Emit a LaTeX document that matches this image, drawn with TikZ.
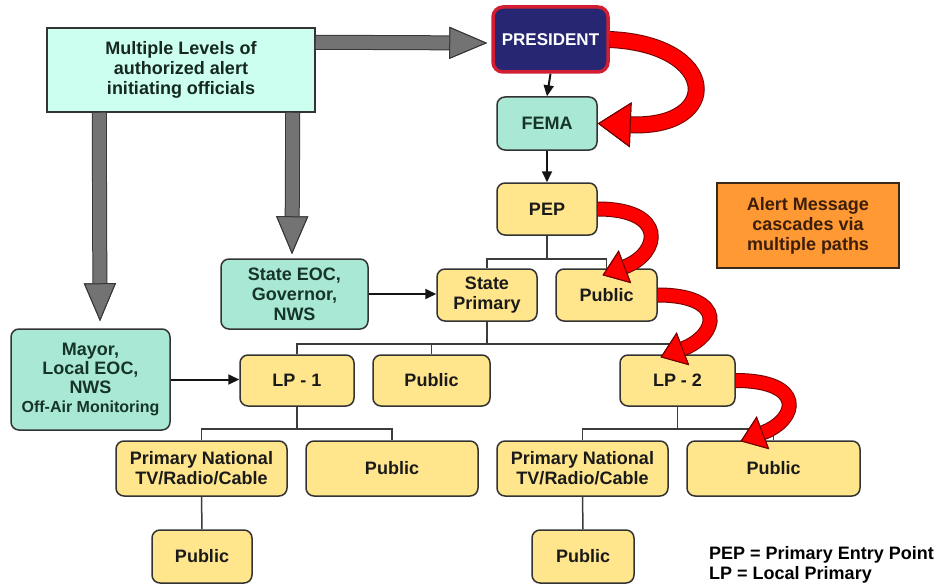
\documentclass[tikz,border=0pt]{standalone}
\usepackage{fontspec}
\setmainfont{Liberation Sans}
\usetikzlibrary{arrows.meta,calc}

\definecolor{boxyellow}{RGB}{255,229,140}
\definecolor{boxteal}{RGB}{168,232,212}
\definecolor{levelcyan}{RGB}{204,255,240}
\definecolor{presnavy}{RGB}{38,38,115}
\definecolor{presred}{RGB}{210,30,50}
\definecolor{alertorange}{RGB}{255,153,51}
\definecolor{arrred}{RGB}{255,0,0}
\definecolor{arrdark}{RGB}{110,0,0}
\definecolor{arrgrey}{RGB}{115,115,115}
\definecolor{greyedge}{RGB}{55,55,55}
\definecolor{edge}{RGB}{51,51,51}

\tikzset{
  box/.style={draw=edge, line width=1.5pt, rounded corners=8pt, align=center, inner sep=0pt,
    font=\fontsize{18}{20}\selectfont\bfseries, text={rgb,255:red,26;green,26;blue,26}},
  yelbox/.style={box, fill=boxyellow},
  tealbox/.style={box, fill=boxteal, text={rgb,255:red,22;green,52;blue,40}},
  tree/.style={line width=1.5pt, draw={rgb,255:red,60;green,60;blue,60}},
  blk/.style={line width=2pt, draw={rgb,255:red,20;green,20;blue,20}, -{Triangle[length=11pt,width=10pt]}},
  greyarr/.style={line width=13pt, draw=arrgrey, preaction={draw=greyedge, line width=15pt},
    -{Triangle[length=38pt,width=32pt,fill=arrgrey,color=greyedge,line width=1pt]}},
  redarr/.style={line width=13pt, draw=arrred, preaction={draw=arrdark, line width=15pt},
    -{Triangle[length=24pt,width=35pt,fill=arrred,color=arrdark,line width=1pt]}},
  bigred/.style={line width=15pt, draw=arrred, preaction={draw=arrdark, line width=17pt},
    -{Triangle[length=33pt,width=45pt,fill=arrred,color=arrdark,line width=1pt]}}
}

\begin{document}
\begin{tikzpicture}[x=1pt,y=1pt,yscale=-1,xscale=1]
\useasboundingbox (0,0) rectangle (943,586);

% officials
\node[box, rounded corners=0pt, fill=levelcyan, text={rgb,255:red,22;green,40;blue,32}, minimum width=268pt, minimum height=84pt] (levels) at (181,70) {Multiple Levels of\\authorized alert\\initiating officials};
\node[box, fill=presnavy, draw=presred, line width=3.5pt, rounded corners=10pt, text=white, font=\fontsize{17}{19}\selectfont\bfseries, minimum width=115pt, minimum height=65pt] (president) at (550.5,39.5) {PRESIDENT};
\node[tealbox, minimum width=100pt, minimum height=53pt] (fema) at (547,123.5) {FEMA};
\node[tealbox, minimum width=147pt, minimum height=70pt] (seoc) at (294.5,294) {State EOC,\\Governor,\\NWS};
\node[tealbox, minimum width=159pt, minimum height=101pt, font=\fontsize{18}{19}\selectfont\bfseries] (mayor) at (90.5,379.5) {Mayor,\\Local EOC,\\NWS\\{\fontsize{16}{18}\selectfont Off-Air Monitoring}};

% stations
\node[yelbox, minimum width=100pt, minimum height=52pt] (pep) at (547,209) {PEP};
\node[yelbox, minimum width=100pt, minimum height=52pt] (sp) at (487,295) {State\\Primary};
\node[yelbox, minimum width=101pt, minimum height=52pt] (pub1) at (606.5,295) {Public};
\node[yelbox, minimum width=114pt, minimum height=51pt] (lp1) at (297,380.5) {LP - 1};
\node[yelbox, minimum width=117pt, minimum height=51pt] (pub2) at (431.5,380.5) {Public};
\node[yelbox, minimum width=115pt, minimum height=51pt] (lp2) at (677.5,380.5) {LP - 2};
\node[yelbox, minimum width=171pt, minimum height=55pt] (pn1) at (201.5,468.5) {Primary National\\TV/Radio/Cable};
\node[yelbox, minimum width=172pt, minimum height=55pt] (pub3) at (392,468.5) {Public};
\node[yelbox, minimum width=171pt, minimum height=55pt] (pn2) at (582.5,468.5) {Primary National\\TV/Radio/Cable};
\node[yelbox, minimum width=173pt, minimum height=55pt] (pub4) at (773.5,468.5) {Public};
\node[yelbox, minimum width=100pt, minimum height=53pt] (pub5) at (202,556.5) {Public};
\node[yelbox, minimum width=102pt, minimum height=53pt] (pub6) at (583,556.5) {Public};

% note and legend
\node[box, rounded corners=0pt, draw={rgb,255:red,60;green,40;blue,25}, fill=alertorange, text={rgb,255:red,60;green,30;blue,10}, minimum width=182pt, minimum height=85pt] (alert) at (808,225.5) {Alert Message\\cascades via\\multiple paths};
\node[anchor=north west, align=left, inner sep=0pt, font=\fontsize{18}{20}\selectfont\bfseries] (legend) at (709,546) {PEP = Primary Entry Point\\LP = Local Primary};

% tree lines
\draw[tree] (pep.south) -- ++(0,23) coordinate (j1);
\draw[tree] (sp.north) |- (j1) -| (pub1.north);
\draw[tree] (sp.south) -- ++(0,22) coordinate (j2);
\draw[tree] (lp1.north) |- (j2) -| (lp2.north);
\draw[tree] (pub2.north) -- (pub2.north |- j2);
\draw[tree] (lp1.south) -- ++(0,22) coordinate (j3);
\draw[tree] (pn1.north) |- (j3) -| (pub3.north);
\draw[tree] (lp2.south) -- ++(0,22) coordinate (j4);
\draw[tree] (pn2.north) |- (j4) -| (pub4.north);
\draw[tree] (pn1.south) -- (pub5.north);
\draw[tree] (pn2.south) -- (pub6.north);

% black arrows
\draw[blk] (president.south) -- (fema.north);
\draw[blk] (fema.south) -- (pep.north);
\draw[blk] (seoc.east) -- (seoc.east -| sp.west);
\draw[blk] (mayor.east) -- (mayor.east -| lp1.west);

% grey arrows
\draw[greyarr] ($(levels.north east)+(0,15)$) -- ($(president.west)+(-4,3.5)$);
\draw[greyarr] ($(levels.south west)+(53,0)$) -- ($(mayor.north)+(9.5,-7)$);
\draw[greyarr] ($(levels.south east)+(-23,0)$) -- ($(seoc.north)+(-2.5,-4)$);

% red cascades
\draw[bigred] (president.east) .. controls ($(president.east)+(110,5)$) and ($(fema.east)+(125,5)$) .. (fema.east);
\draw[redarr] (pep.east) .. controls ($(pep.east)+(70,0)$) and ($(pub1.north)+(54,-15)$) .. ($(pub1.north)+(-4,7)$);
\draw[redarr] (pub1.east) .. controls ($(pub1.east)+(70,0)$) and ($(lp2.north)+(41,-19)$) .. ($(lp2.north)+(-17,3)$);
\draw[redarr] (lp2.east) .. controls ($(lp2.east)+(70,0)$) and ($(pub4.north)+(25,-21)$) .. ($(pub4.north)+(-33,1)$);

\end{tikzpicture}
\end{document}
